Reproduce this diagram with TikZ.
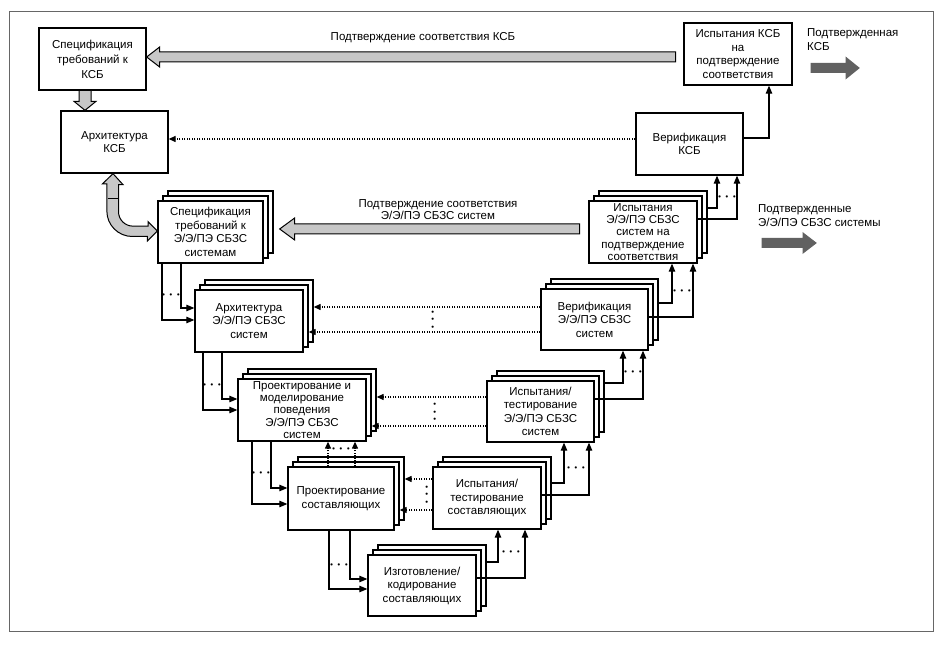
\documentclass[tikz,border=0pt]{standalone}
\usepackage{fontspec}
\setmainfont{Liberation Sans}
\usetikzlibrary{arrows.meta, calc, shadows}

\colorlet{lgray}{black!22}
\colorlet{dgray}{black!62}

% block arrow, tip at the origin: length, half shaft, half head, head length
\tikzset{pics/fatarrow/.style n args={4}{code={%
  \draw[pic actions] (0,0) -- (#4,#3) -- (#4,#2) -- (#1,#2) -- (#1,-#2) -- (#4,-#2) -- (#4,-#3) -- cycle;}}}

\begin{document}
\begin{tikzpicture}[x=1pt, y=1pt, every node/.style={font=\fontsize{11.5}{13.5}\selectfont, inner sep=0pt}]
    \tikzstyle{box}=[draw, line width=1.3pt, fill=white, align=center, minimum width=107pt, minimum height=62pt]
    \tikzstyle{stack}=[box, copy shadow={shadow xshift=10pt, shadow yshift=10pt, draw=black, fill=white, line width=1.3pt},
                            copy shadow={shadow xshift=5pt, shadow yshift=5pt, draw=black, fill=white, line width=1.3pt}]
    \tikzstyle{tight}=[font=\fontsize{11.5}{12.3}\selectfont]
    \tikzstyle{link}=[line width=1.1pt, -{Triangle[length=8pt,width=6.5pt]}]
    \tikzstyle{back}=[line width=1.2pt, dash pattern=on 1.2pt off 1.3pt, -{Triangle[length=7pt,width=6pt]}]
    \tikzstyle{fatgray}=[draw, fill=lgray, line width=1pt]
    \tikzstyle{fatdark}=[draw=dgray, fill=dgray, line width=1pt]
    \tikzstyle{dd}=[font=\fontsize{14}{14}\selectfont\boldmath]

    \useasboundingbox (0,0) rectangle (945,647);
    \draw[black!60, line width=0.8pt] (9,16) rectangle (933,636);

    % system level
    \node[box, font=\fontsize{11.5}{15}\selectfont] (specK) at (92.5,588) {Спецификация\\требований к\\КСБ};
    \node[box] (archK) at (114.5,505) {Архитектура\\КСБ};
    \node[box, minimum width=108pt] (testK) at (738,593) {Испытания КСБ\\на\\подтверждение\\соответствия};
    \node[box] (verK) at (689.5,503) {Верификация\\КСБ};

    % E/E/PE level
    \node[stack, minimum width=105pt] (specE) at (210.5,415) {Спецификация\\требований к\\Э/Э/ПЭ СБЗС\\системам};
    \node[stack, minimum width=108pt] (archE) at (249,326) {Архитектура\\Э/Э/ПЭ СБЗС\\систем};
    \node[stack, minimum width=108pt, tight] (testE) at (643,415) {Испытания\\Э/Э/ПЭ СБЗС\\систем на\\подтверждение\\соответствия};
    \node[stack, minimum height=61pt] (verE) at (594.5,327.5) {Верификация\\Э/Э/ПЭ СБЗС\\систем};
    \node[stack, minimum width=128pt, tight] (desE) at (302,237) {Проектирование и\\моделирование\\поведения\\Э/Э/ПЭ СБЗС\\систем};
    \node[stack, minimum height=61pt] (tstE) at (540.5,235.5) {Испытания/\\тестирование\\Э/Э/ПЭ СБЗС\\систем};

    % components
    \node[stack, minimum width=106pt, minimum height=63pt] (desC) at (341,148.5) {Проектирование\\составляющих};
    \node[stack, minimum width=108pt] (tstC) at (487,149) {Испытания/\\тестирование\\составляющих};
    \node[stack, minimum width=108pt, minimum height=61pt] (manC) at (422,61.5) {Изготовление/\\кодирование\\составляющих};

    % labels
    \node (lblK) at (423,609) {Подтверждение соответствия КСБ};
    \node[align=center, font=\fontsize{11.5}{12}\selectfont] (lblE) at (438,437.5) {Подтверждение соответствия\\Э/Э/ПЭ СБЗС систем};
    \node[anchor=west, align=left] (outK) at (807,607.5) {Подтвержденная\\КСБ};
    \node[anchor=west, align=left, font=\fontsize{11.5}{14.5}\selectfont] (outE) at (758,431.5) {Подтвержденные\\Э/Э/ПЭ СБЗС системы};

    % block arrows
    \pic[fatgray] at (specK.east |- 0,590) {fatarrow={529}{5}{10}{13}};
    \pic[fatgray] at ($(specE.east)+(16,3)$) {fatarrow={300}{5}{11}{15}};
    \pic[fatdark] at (859,579) {fatarrow={-48}{4.5}{10.5}{-13}};
    \pic[fatdark] at (816,404) {fatarrow={-54}{4.5}{10}{-13}};
    \draw[fatgray] (archK.north -| 85,0) -- ++(11,9) -- ++(-5,0) -- ++(0,11) -- ++(-12,0) -- ++(0,-11) -- ++(-5,0) -- cycle;
    \draw[fatgray] (archK.south -| 113,0) -- ++(10,-11) -- ++(-4.5,0) -- ++(0,-27)
        arc[start angle=180, end angle=270, radius=14.5] -- ++(15,0) -- ++(0,4.5) -- (specE.west |- 0,416)
        -- ++(-10,-10) -- ++(0,4.5) -- ++(-15,0) arc[start angle=270, end angle=180, radius=25.5]
        -- ++(0,27) -- ++(-4.5,0) -- cycle;
    \draw[line width=1pt] (107.5,448) -- (118.5,448);

    % going down on the left
    \draw[link] (specE.south -| 162,0) |- (archE.west |- 0,327);
    \draw[link] (specE.south -| 181,0) |- (archE.west |- 0,339);
    \draw[link] (archE.south -| 203,0) |- (desE.west |- 0,237);
    \draw[link] (archE.south -| 222,0) |- (desE.west |- 0,248);
    \draw[link] (desE.south -| 252,0) |- (desC.west |- 0,143);
    \draw[link] (desE.south -| 271,0) |- (desC.west |- 0,159);
    \draw[link] (desC.south -| 329,0) |- (manC.west |- 0,58);
    \draw[link] (desC.south -| 350,0) |- (manC.west |- 0,68);
    \node[dd] (d1) at (171,352) {$\cdots$};
    \node[dd] (d2) at (212,262) {$\cdots$};
    \node[dd] (d3) at (261,174) {$\cdots$};
    \node[dd] (d4) at (339,82) {$\cdots$};

    % going up on the right
    \draw[link] ($(manC.east |- 0,85)+(10,0)$) -| (tstC.south -| 498,0);
    \draw[link] (manC.east |- 0,69) -| (tstC.south -| 525,0);
    \draw[link] ($(tstC.east |- 0,164)+(10,0)$) -| (tstE.south -| 564,0);
    \draw[link] (tstC.east |- 0,152) -| (tstE.south -| 589,0);
    \draw[link] ($(tstE.east |- 0,264)+(10,0)$) -| (verE.south -| 623,0);
    \draw[link] (tstE.east |- 0,248) -| (verE.south -| 643,0);
    \draw[link] ($(verE.east |- 0,344)+(10,0)$) -| (testE.south -| 672,0);
    \draw[link] (verE.east |- 0,330) -| (testE.south -| 693,0);
    \draw[link] ($(testE.east |- 0,439)+(10,0)$) -| (verK.south -| 717,0);
    \draw[link] (testE.east |- 0,428) -| (verK.south -| 737,0);
    \draw[link] (verK.east |- 0,509) -| (testK.south -| 769,0);
    \node[dd] (d5) at (511,95) {$\cdots$};
    \node[dd] (d6) at (576,179) {$\cdots$};
    \node[dd] (d7) at (633,275) {$\cdots$};
    \node[dd] (d8) at (682,356) {$\cdots$};
    \node[dd] (d9) at (727,450) {$\cdots$};

    % dotted feedback
    \draw[back] (verK.west |- 0,508) -- (archK.east |- 0,508);
    \draw[back] (verE.west |- 0,340) -- ($(archE.east |- 0,340)+(10,0)$);
    \draw[back] (verE.west |- 0,315) -- ($(archE.east |- 0,315)+(5,0)$);
    \draw[back] (tstE.west |- 0,250) -- ($(desE.east |- 0,250)+(10,0)$);
    \draw[back] (tstE.west |- 0,221) -- ($(desE.east |- 0,221)+(5,0)$);
    \draw[back] (tstC.west |- 0,168) -- ($(desC.east |- 0,168)+(10,0)$);
    \draw[back] (tstC.west |- 0,137) -- ($(desC.east |- 0,137)+(5,0)$);
    \draw[back] (desC.north -| 328,0) -- (desE.south -| 328,0);
    \draw[back] (desC.north -| 355,0) -- (desE.south -| 355,0);
    \node[dd, rotate=90] (v1) at (433,327.5) {$\cdots$};
    \node[dd, rotate=90] (v2) at (435,235) {$\cdots$};
    \node[dd, rotate=90] (v3) at (427,152.5) {$\cdots$};
    \node[dd] (d10) at (341,198) {$\cdots$};
\end{tikzpicture}
\end{document}
